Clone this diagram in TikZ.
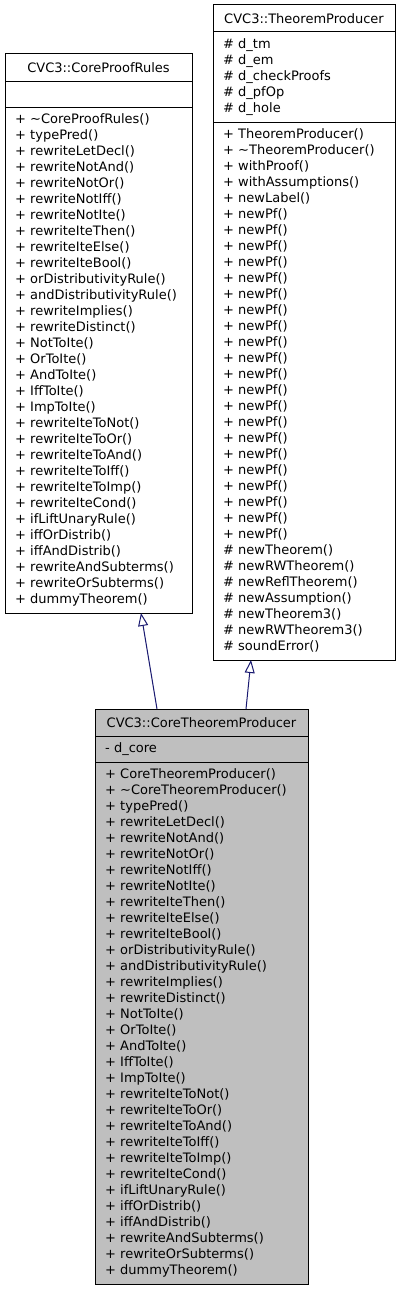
\documentclass[tikz,border=0pt]{standalone}
\usepackage{fontspec}
\setmainfont{DejaVu Sans}
\usetikzlibrary{
arrows.meta,
positioning,
shapes
}
\definecolor{classgray}{RGB}{191,191,191}
\definecolor{inheritblue}{RGB}{25,25,112}
\tikzset{>={Triangle[open,length=13pt,width=10pt]}}

\begin{document}
\begin{tikzpicture}[x=1pt, y=-1pt, node distance=0pt, line width=1pt, font=\fontsize{13}{16}\selectfont,
	classname/.style={draw,outer sep=0pt,anchor=north west,inner xsep=0pt,minimum height=27pt,align=center},
	classpart/.style={draw,outer sep=0pt,inner xsep=10pt,inner ysep=5pt,align=left,execute at begin node=\strut,execute at end node=\strut}]
	\useasboundingbox (0,0) rectangle (400,1290);

	% base class on the left
	\node[classname,minimum width=187pt] (rulesname) at (5,54) {CVC3::CoreProofRules};
	\node[classpart,text width=167pt,below=of rulesname] (rulesattr) {};
	\node[classpart,text width=167pt,below=of rulesattr] (rulesops) {+ \textasciitilde CoreProofRules()\\+ typePred()\\+ rewriteLetDecl()\\+ rewriteNotAnd()\\+ rewriteNotOr()\\+ rewriteNotIff()\\+ rewriteNotIte()\\+ rewriteIteThen()\\+ rewriteIteElse()\\+ rewriteIteBool()\\+ orDistributivityRule()\\+ andDistributivityRule()\\+ rewriteImplies()\\+ rewriteDistinct()\\+ NotToIte()\\+ OrToIte()\\+ AndToIte()\\+ IffToIte()\\+ ImpToIte()\\+ rewriteIteToNot()\\+ rewriteIteToOr()\\+ rewriteIteToAnd()\\+ rewriteIteToIff()\\+ rewriteIteToImp()\\+ rewriteIteCond()\\+ ifLiftUnaryRule()\\+ iffOrDistrib()\\+ iffAndDistrib()\\+ rewriteAndSubterms()\\+ rewriteOrSubterms()\\+ dummyTheorem()};

	% base class on the right
	\node[classname,minimum width=182pt] (producername) at (213,5) {CVC3::TheoremProducer};
	\node[classpart,text width=162pt,below=of producername] (producerattr) {\# d\_tm\\\# d\_em\\\# d\_checkProofs\\\# d\_pfOp\\\# d\_hole};
	\node[classpart,text width=162pt,below=of producerattr] (producerops) {+ TheoremProducer()\\+ \textasciitilde TheoremProducer()\\+ withProof()\\+ withAssumptions()\\+ newLabel()\\+ newPf()\\+ newPf()\\+ newPf()\\+ newPf()\\+ newPf()\\+ newPf()\\+ newPf()\\+ newPf()\\+ newPf()\\+ newPf()\\+ newPf()\\+ newPf()\\+ newPf()\\+ newPf()\\+ newPf()\\+ newPf()\\+ newPf()\\+ newPf()\\+ newPf()\\+ newPf()\\+ newPf()\\\# newTheorem()\\\# newRWTheorem()\\\# newReflTheorem()\\\# newAssumption()\\\# newTheorem3()\\\# newRWTheorem3()\\\# soundError()};

	% derived class
	\node[classname,fill=classgray,minimum width=213pt] (corename) at (95,709) {CVC3::CoreTheoremProducer};
	\node[classpart,fill=classgray,text width=193pt,below=of corename] (coreattr) {- d\_core};
	\node[classpart,fill=classgray,text width=193pt,below=of coreattr] (coreops) {+ CoreTheoremProducer()\\+ \textasciitilde CoreTheoremProducer()\\+ typePred()\\+ rewriteLetDecl()\\+ rewriteNotAnd()\\+ rewriteNotOr()\\+ rewriteNotIff()\\+ rewriteNotIte()\\+ rewriteIteThen()\\+ rewriteIteElse()\\+ rewriteIteBool()\\+ orDistributivityRule()\\+ andDistributivityRule()\\+ rewriteImplies()\\+ rewriteDistinct()\\+ NotToIte()\\+ OrToIte()\\+ AndToIte()\\+ IffToIte()\\+ ImpToIte()\\+ rewriteIteToNot()\\+ rewriteIteToOr()\\+ rewriteIteToAnd()\\+ rewriteIteToIff()\\+ rewriteIteToImp()\\+ rewriteIteCond()\\+ ifLiftUnaryRule()\\+ iffOrDistrib()\\+ iffAndDistrib()\\+ rewriteAndSubterms()\\+ rewriteOrSubterms()\\+ dummyTheorem()};

	% inheritance arrows
	\draw[->,draw=inheritblue] ([xshift=62pt]corename.north west) -- ([xshift=136pt]rulesops.south west);
	\draw[->,draw=inheritblue] ([xshift=151pt]corename.north west) -- ([xshift=38pt]producerops.south west);
\end{tikzpicture}
\end{document}
